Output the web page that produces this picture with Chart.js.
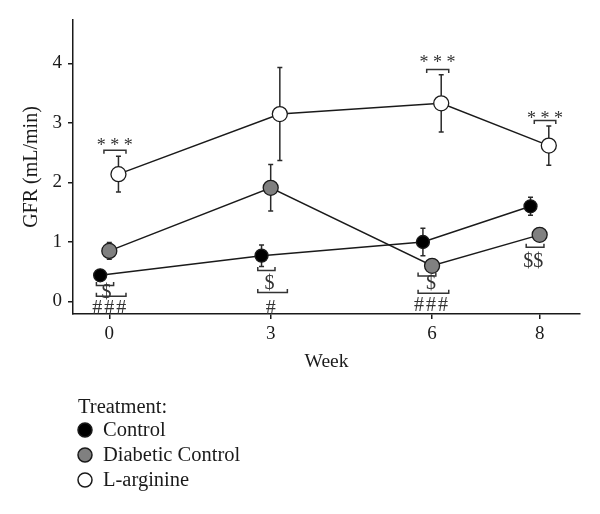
<!DOCTYPE html>
<html><head><meta charset="utf-8">
<script src="https://cdn.jsdelivr.net/npm/chart.js@4/dist/chart.umd.min.js"></script>
<style>html,body{margin:0;padding:0;background:#fff}</style>
</head><body>
<canvas id="c" width="600" height="514"></canvas>
<script>
// ---- data ----
const weeks = [0, 3, 6, 8];
const yTickValues = [0, 1, 2, 3, 4];
const seriesNames = ['Control', 'Diabetic Control', 'L-arginine'];
const control = [0.44, 0.77, 1.00, 1.60];
const controlErr = [0.04, 0.18, 0.23, 0.15];
const diabetic = [0.85, 1.91, 0.60, 1.12];
const diabeticErr = [0.14, 0.39, 0.05, 0.05];
const larginine = [2.14, 3.15, 3.33, 2.62];
const larginineErr = [0.30, 0.78, 0.48, 0.33];
const legendTitle = 'Treatment:';
const xTitle = 'Week';
const yTitle = 'GFR (mL/min)';
// significance marks (week, offsets in weeks, heights in GFR units)
const sigBrackets = [
  {week: 0, from: -0.10, to: 0.31, y: 2.54, legs: 'down'},
  {week: 6, from: -0.10, to: 0.31, y: 3.90, legs: 'down'},
  {week: 8, from: -0.10, to: 0.30, y: 3.04, legs: 'down'},
  {week: 0, from: -0.24, to: 0.08, y: 0.27, legs: 'up'},
  {week: 0, from: -0.24, to: 0.31, y: 0.09, legs: 'up'},
  {week: 3, from: -0.24, to: 0.08, y: 0.52, legs: 'up'},
  {week: 3, from: -0.24, to: 0.31, y: 0.15, legs: 'up'},
  {week: 6, from: -0.26, to: 0.07, y: 0.43, legs: 'up'},
  {week: 6, from: -0.26, to: 0.31, y: 0.14, legs: 'up'},
  {week: 8, from: -0.25, to: 0.08, y: 0.91, legs: 'up'}
];
const sigLabels = [
  {week: 0, dx: 0.10, y: 2.68, text: '* * *'},
  {week: 6, dx: 0.10, y: 4.07, text: '* * *'},
  {week: 8, dx: 0.10, y: 3.13, text: '* * *'},
  {week: 0, dx: -0.05, y: 0.14, text: '$'},
  {week: 0, dx: 0.00, y: -0.13, text: '###'},
  {week: 3, dx: -0.02, y: 0.29, text: '$'},
  {week: 3, dx: 0.02, y: -0.13, text: '#'},
  {week: 6, dx: -0.02, y: 0.30, text: '$'},
  {week: 6, dx: -0.02, y: -0.07, text: '###'},
  {week: 8, dx: -0.12, y: 0.67, text: '$$'}
];

// ---- styling ----
const FONT = "'Liberation Serif', 'Times New Roman', serif";
const INK = '#1a1a1a';
const dodge = [-0.17, 0, 0.17];
const fills = ['#000000', '#808080', '#ffffff'];
const radii = [6.5, 7.5, 7.5];

const toPoints = (vals, d) => vals.map((v, i) => ({x: weeks[i] + d, y: v}));
const allVals = [control, diabetic, larginine];
const allErrs = [controlErr, diabeticErr, larginineErr];

const datasets = seriesNames.map((name, i) => ({
  label: name,
  data: toPoints(allVals[i], dodge[i]),
  errors: allErrs[i],
  showLine: true,
  borderColor: INK,
  borderWidth: 1.5,
  backgroundColor: fills[i],
  pointBackgroundColor: fills[i],
  pointBorderColor: INK,
  pointBorderWidth: 1.3,
  pointRadius: radii[i],
  pointHoverRadius: radii[i],
  order: 3 - i
}));

const errorBars = {
  id: 'errorBars',
  beforeDatasetsDraw(chart) {
    const {ctx, scales: {x, y}} = chart;
    ctx.save();
    ctx.strokeStyle = '#2a2a2a';
    ctx.lineWidth = 1.5;
    chart.data.datasets.forEach(ds => {
      ds.data.forEach((p, i) => {
        const e = ds.errors[i];
        const px = x.getPixelForValue(p.x);
        const t = y.getPixelForValue(p.y + e);
        const b = y.getPixelForValue(p.y - e);
        ctx.beginPath();
        ctx.moveTo(px, t); ctx.lineTo(px, b);
        ctx.moveTo(px - 2.5, t); ctx.lineTo(px + 2.5, t);
        ctx.moveTo(px - 2.5, b); ctx.lineTo(px + 2.5, b);
        ctx.stroke();
      });
    });
    ctx.restore();
  }
};

const sigMarks = {
  id: 'sigMarks',
  afterDatasetsDraw(chart) {
    const {ctx, scales: {x, y}} = chart;
    ctx.save();
    ctx.strokeStyle = '#333';
    ctx.lineWidth = 1.5;
    sigBrackets.forEach(b => {
      const x1 = x.getPixelForValue(b.week + b.from);
      const x2 = x.getPixelForValue(b.week + b.to);
      const py = y.getPixelForValue(b.y);
      const leg = b.legs === 'down' ? 3.5 : -3.5;
      ctx.beginPath();
      ctx.moveTo(x1, py + leg); ctx.lineTo(x1, py); ctx.lineTo(x2, py); ctx.lineTo(x2, py + leg);
      ctx.stroke();
    });
    ctx.fillStyle = '#333';
    ctx.textAlign = 'center';
    ctx.textBaseline = 'middle';
    sigLabels.forEach(l => {
      const star = l.text.indexOf('*') >= 0;
      const hash = l.text.indexOf('#') >= 0;
      ctx.font = (star ? 18 : 20) + 'px ' + FONT;
      ctx.letterSpacing = hash ? '2px' : '0px';
      const px = x.getPixelForValue(l.week + l.dx) + (hash && l.text.length > 1 ? 1 : 0);
      const py = y.getPixelForValue(l.y) + (star ? 4 : 0);
      ctx.fillText(l.text, px, py);
    });
    ctx.restore();
  }
};

const sideLegend = {
  id: 'sideLegend',
  afterDraw(chart) {
    const {ctx} = chart;
    ctx.save();
    ctx.fillStyle = INK;
    ctx.font = '20.5px ' + FONT;
    ctx.textAlign = 'left';
    ctx.textBaseline = 'middle';
    ctx.fillText(legendTitle, 78, 408);
    chart.data.datasets.forEach((ds, i) => {
      const cy = 430 + i * 25;
      ctx.beginPath();
      ctx.arc(85, cy, 7, 0, Math.PI * 2);
      ctx.fillStyle = ds.pointBackgroundColor;
      ctx.fill();
      ctx.lineWidth = 1.5;
      ctx.strokeStyle = INK;
      ctx.stroke();
      ctx.fillStyle = INK;
      ctx.fillText(ds.label, 103, cy + 1);
    });
    ctx.restore();
  }
};

new Chart(document.getElementById('c'), {
  type: 'scatter',
  data: {datasets},
  options: {
    responsive: false,
    animation: false,
    layout: {padding: {top: 20, right: 20, bottom: 140, left: 0}},
    plugins: {legend: {display: false}, tooltip: {enabled: false}},
    scales: {
      x: {
        type: 'linear',
        min: -0.675, max: 8.75,
        afterBuildTicks: s => { s.ticks = weeks.map(v => ({value: v})); },
        afterFit: s => { s.height = 60; },
        grid: {drawOnChartArea: false, drawTicks: true, tickLength: 5, color: INK, lineWidth: 1.5},
        border: {display: true, color: INK, width: 1.5},
        ticks: {font: {family: FONT, size: 19}, color: INK, padding: 4},
        title: {display: true, text: xTitle, font: {family: FONT, size: 19.5}, color: INK, padding: {top: 0, bottom: 0}}
      },
      y: {
        type: 'linear',
        min: -0.21, max: 4.73,
        afterBuildTicks: s => { s.ticks = yTickValues.map(v => ({value: v})); },
        afterFit: s => { s.width = 73; },
        grid: {drawOnChartArea: false, drawTicks: true, tickLength: 5, color: INK, lineWidth: 1.5},
        border: {display: true, color: INK, width: 1.5},
        ticks: {font: {family: FONT, size: 19}, color: INK, padding: 6},
        title: {display: true, text: yTitle, font: {family: FONT, size: 20}, color: INK, padding: {top: 20, bottom: 0}}
      }
    }
  },
  plugins: [errorBars, sigMarks, sideLegend]
});
</script>
</body></html>
